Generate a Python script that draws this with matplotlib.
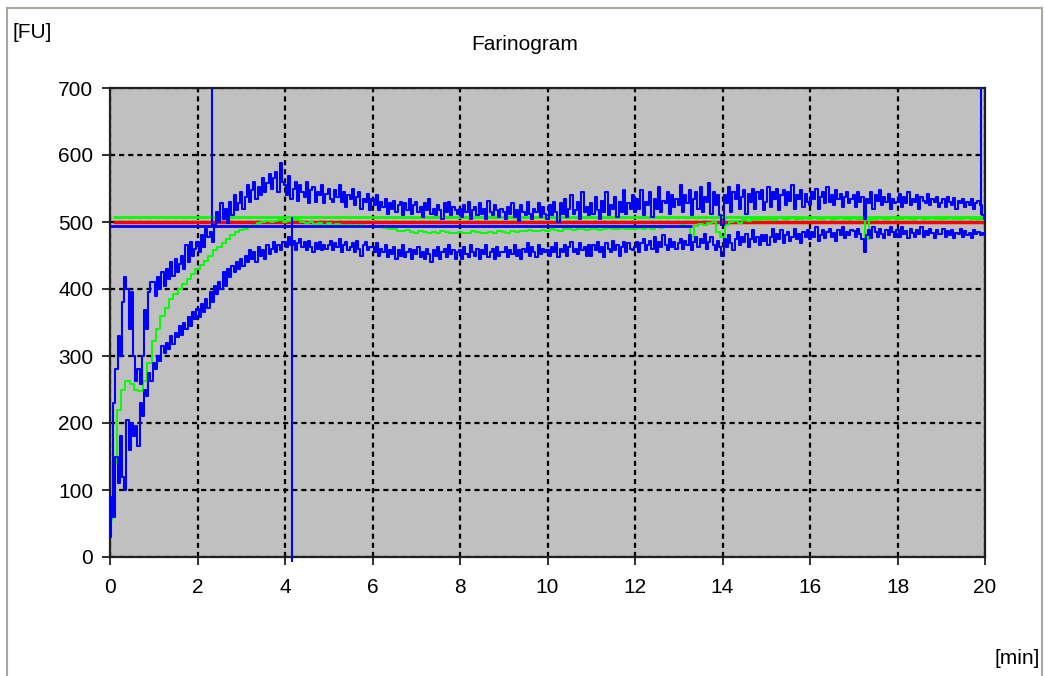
import numpy as np
import matplotlib
matplotlib.use("Agg")
import matplotlib.pyplot as plt
from matplotlib.patches import Rectangle

plt.rcParams['font.family'] = ['Liberation Sans', 'DejaVu Sans']

# ---- data ----
band_time = [round(i * 0.05, 2) for i in range(401)]
median_time = [round(i * 0.1, 1) for i in range(201)]

upper_fu = [
    90, 60, 230, 280, 330, 300, 380, 418, 400, 340, 395, 300, 262, 280, 258, 300, 368, 340, 395, 410,
    410, 390, 418, 400, 425, 405, 430, 415, 440, 420, 445, 425, 438, 450, 430, 465, 440, 470, 450, 460,
    470, 455, 480, 462, 490, 478, 485, 470, 495, 515, 500, 528, 505, 520, 498, 530, 510, 540, 518, 528,
    545, 520, 538, 555, 530, 548, 560, 535, 552, 540, 565, 545, 558, 572, 550, 565, 575, 545, 588, 560,
    555, 540, 568, 535, 550, 560, 532, 555, 545, 538, 560, 528, 548, 552, 530, 545, 540, 555, 528, 542,
    550, 535, 530, 548, 538, 555, 530, 545, 522, 540, 535, 550, 525, 538, 545, 520, 535, 530, 542, 518,
    535, 525, 540, 518, 530, 522, 535, 512, 528, 520, 532, 515, 525, 530, 510, 528, 518, 535, 512, 525,
    530, 515, 522, 508, 528, 518, 535, 512, 520, 510, 525, 518, 505, 528, 515, 530, 510, 522, 518, 512,
    520, 508, 525, 515, 530, 505, 518, 522, 510, 528, 512, 520, 505, 532, 515, 510, 525, 518, 508, 520,
    515, 505, 522, 512, 528, 508, 518, 502, 525, 515, 510, 530, 512, 505, 520, 515, 528, 508, 522, 512,
    505, 525, 510, 530, 515, 500, 528, 512, 535, 508, 520, 540, 512, 518, 530, 505, 545, 515, 522, 510,
    528, 512, 538, 518, 505, 532, 515, 545, 510, 525, 520, 538, 508, 530, 515, 548, 512, 528, 520, 540,
    515, 535, 520, 548, 510, 530, 525, 545, 508, 535, 520, 552, 515, 532, 528, 545, 512, 540, 522, 535,
    525, 555, 515, 540, 528, 548, 510, 535, 545, 520, 552, 515, 538, 530, 558, 512, 545, 525, 540, 510,
    495, 540, 528, 552, 515, 545, 535, 555, 520, 538, 548, 512, 542, 530, 550, 520, 545, 535, 548, 518,
    530, 552, 522, 545, 535, 550, 518, 540, 548, 525, 545, 532, 555, 520, 540, 535, 548, 522, 542, 530,
    525, 545, 535, 550, 520, 538, 545, 528, 552, 530, 540, 525, 548, 535, 542, 522, 538, 545, 528, 535,
    540, 522, 545, 530, 538, 505, 535, 528, 545, 520, 540, 532, 548, 525, 538, 530, 542, 520, 535, 528,
    530, 542, 522, 538, 528, 545, 525, 535, 530, 540, 520, 538, 532, 528, 542, 525, 535, 530, 538, 522,
    528, 535, 522, 538, 530, 525, 536, 520, 532, 528, 535, 522, 530, 526, 534, 520, 528, 532, 525, 510,
    505,
]

lower_fu = [
    30, 80, 60, 150, 110, 180, 120, 100, 205, 160, 200, 180, 195, 165, 230, 210, 250, 240, 275, 262,
    290, 280, 300, 292, 315, 305, 320, 310, 330, 318, 335, 328, 345, 332, 350, 340, 358, 345, 365, 355,
    370, 358, 378, 365, 385, 372, 395, 380, 405, 392, 410, 400, 425, 405, 430, 418, 435, 425, 440, 430,
    445, 435, 450, 440, 458, 445, 455, 440, 462, 450, 458, 445, 465, 452, 460, 470, 455, 465, 458, 470,
    470, 462, 478, 465, 472, 458, 468, 475, 462, 470, 458, 472, 463, 455, 468, 460, 470, 458, 465, 460,
    465, 472, 458, 468, 462, 475, 455, 465, 470, 458, 462, 468, 455, 472, 460, 450, 465, 470, 458, 462,
    462, 455, 468, 450, 460, 455, 465, 448, 458, 452, 462, 445, 458, 450, 465, 448, 455, 460, 445, 458,
    452, 462, 448, 455, 445, 460, 452, 440, 458, 450, 462, 445, 455, 460, 448, 465, 452, 458, 445, 455,
    458, 445, 462, 452, 448, 465, 455, 450, 460, 445, 458, 452, 465, 448, 455, 460, 445, 462, 450, 455,
    455, 462, 448, 458, 452, 465, 450, 458, 445, 460, 455, 468, 450, 462, 455, 448, 465, 452, 460, 455,
    458, 450, 462, 455, 468, 448, 460, 455, 465, 450, 462, 470, 455, 460, 452, 468, 458, 462, 450, 465,
    450, 465, 458, 470, 455, 462, 448, 468, 460, 455, 472, 458, 465, 450, 462, 470, 455, 468, 460, 458,
    462, 470, 455, 468, 475, 458, 465, 472, 460, 478, 455, 470, 462, 480, 465, 458, 475, 462, 470, 460,
    468, 475, 460, 472, 465, 480, 458, 470, 478, 462, 475, 468, 482, 460, 470, 478, 465, 458, 472, 462,
    450, 475, 462, 480, 468, 458, 475, 485, 465, 478, 470, 482, 462, 475, 488, 470, 478, 465, 480, 472,
    480, 465, 478, 490, 470, 482, 475, 488, 468, 480, 485, 472, 478, 490, 475, 482, 468, 485, 478, 488,
    475, 485, 478, 492, 472, 480, 488, 476, 485, 490, 478, 484, 472, 488, 480, 492, 476, 485, 480, 488,
    486, 478, 490, 482, 475, 455, 480, 488, 476, 492, 485, 478, 490, 482, 476, 488, 480, 492, 485, 478,
    488, 478, 492, 482, 486, 476, 490, 483, 478, 488, 482, 492, 478, 486, 480, 490, 484, 476, 488, 482,
    482, 490, 478, 486, 480, 488, 476, 484, 482, 490, 478, 486, 480, 484, 476, 488, 482, 485, 480, 484,
    480,
]

median_fu = [
    55, 140, 220, 250, 262, 258, 250, 248, 262, 290,
    322, 340, 360, 372, 385, 392, 400, 408, 415, 422,
    430, 436, 442, 450, 458, 463, 468, 474, 480, 485,
    488, 490, 493, 496, 498, 500, 501, 500, 502, 503,
    500, 502, 505, 503, 500, 498, 500, 497, 499, 496,
    498, 495, 497, 494, 496, 495, 493, 495, 494, 492,
    493, 492, 494, 491, 490, 489, 487, 486, 488, 485,
    484, 486, 485, 483, 485, 484, 486, 485, 483, 484,
    485, 483, 484, 486, 485, 484, 483, 485, 484, 486,
    485, 484, 486, 485, 487, 486, 488, 487, 486, 488,
    487, 489, 488, 487, 489, 490, 488, 489, 490, 488,
    489, 490, 488, 490, 491, 489, 490, 491, 489, 490,
    490, 491, 489, 492, 490, 492, 491, 493, 492, 494,
    493, 495, 492, 478, 494, 497, 496, 498, 500, 485,
    478, 495, 500, 502, 498, 503, 501, 504, 503, 505,
    504, 505, 503, 506, 505, 504, 506, 505, 504, 506,
    505, 506, 504, 505, 506, 504, 505, 506, 504, 505,
    506, 504, 505, 475, 503, 505, 506, 504, 505, 506,
    505, 504, 506, 505, 504, 506, 505, 504, 506, 505,
    504, 505, 506, 505, 504, 505, 506, 505, 504, 505,
    505,
]

# reference levels (value, start time, end time)
green_level = (507, 0.07, 20)
red_level = (500, 0.07, 20)
blue_level = (494, 0.0, 13.3)

# vertical markers (time, y from, y to)
markers_x = [2.32, 4.15, 19.9]
markers_lo = [494, -8, 510]
markers_hi = [700, 507, 700]

x_ticks = [0, 2, 4, 6, 8, 10, 12, 14, 16, 18, 20]
y_ticks = [0, 100, 200, 300, 400, 500, 600, 700]

# ---- figure ----
W, H = 1045, 676
fig = plt.figure(figsize=(W / 100, H / 100), dpi=100)
fig.patch.set_facecolor('white')

# outer frame
fig.patches.append(Rectangle((7 / W, -0.01), (1042 - 7) / W, 1 - 8 / H + 0.01,
                             transform=fig.transFigure, fill=False,
                             edgecolor='#a8a8a0', linewidth=1.5))

ax = fig.add_axes([110 / W, 1 - 557 / H, (985 - 110) / W, (557 - 88) / H])
ax.set_facecolor('#c0c0c0')
ax.set_xlim(0, 20)
ax.set_ylim(0, 700)
ax.set_xticks(x_ticks)
ax.set_yticks(y_ticks)
ax.tick_params(axis='both', labelsize=15, length=6, width=1.3, color='#202020',
               pad=6, direction='out')
ax.tick_params(axis='x', pad=9)
ax.grid(True, color='black', linestyle=(0, (2.3, 1.8)), linewidth=1.6, zorder=1)
ax.set_axisbelow(True)
for s in ax.spines.values():
    s.set_color('#202020')
    s.set_linewidth(1.6)

# reference levels
ax.hlines(green_level[0], green_level[1], green_level[2], color='#00ff00', lw=2, zorder=2)
ax.hlines(red_level[0], red_level[1], red_level[2], color='#ff0000', lw=2.5, zorder=2)

# curves
ax.plot(median_time, median_fu, color='#00ff00', lw=1.4, drawstyle='steps-mid', zorder=3)
ax.plot(band_time, upper_fu, color='#0000ff', lw=1.5, drawstyle='steps-mid', zorder=4)
ax.plot(band_time, lower_fu, color='#0000ff', lw=1.5, drawstyle='steps-mid', zorder=4)

ax.hlines(blue_level[0], blue_level[1], blue_level[2], color='#0000ff', lw=2, zorder=4)

for mx, lo, hi in zip(markers_x, markers_lo, markers_hi):
    ax.vlines(mx, lo, hi, color='#0000ff', lw=1.5, zorder=5, clip_on=False)

fig.text(12 / W, 1 - 32 / H, '[FU]', fontsize=15, ha='left', va='center')
fig.text(525 / W, 1 - 45 / H, 'Farinogram', fontsize=15, ha='center', va='center')
fig.text(1040 / W, 1 - 658 / H, '[min]', fontsize=15, ha='right', va='center')

fig.savefig('out.png', dpi=100)
